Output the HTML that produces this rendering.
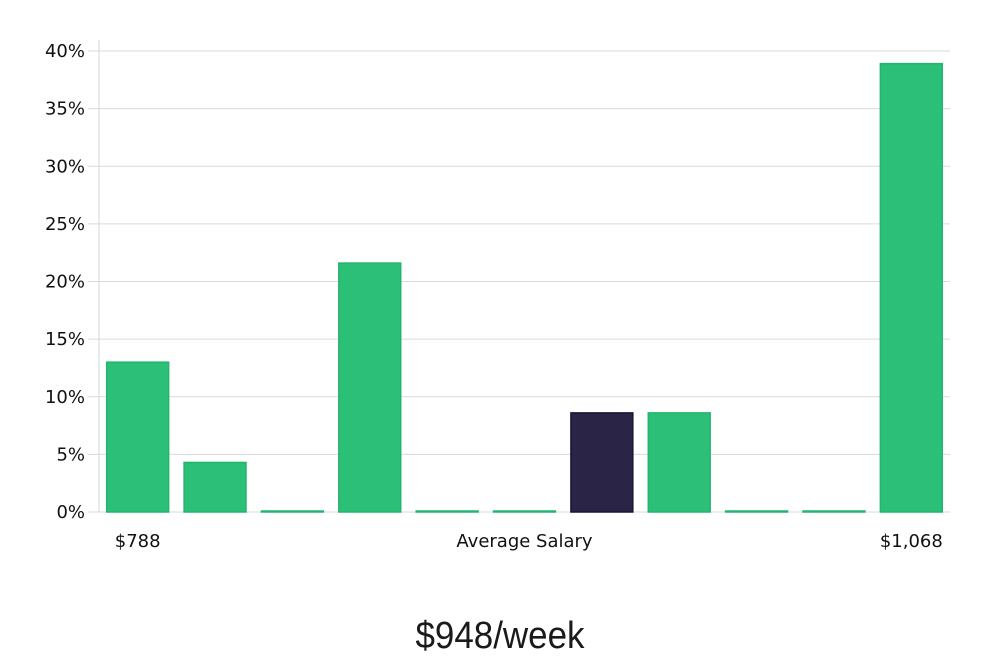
<!DOCTYPE html>
<html><head><meta charset="utf-8"><style>
body{margin:0;background:#fff;width:1000px;height:660px;overflow:hidden}
svg text{font-family:"DejaVu Sans","Liberation Sans",sans-serif;fill:#111}
</style></head><body>
<svg id="chart" width="1000" height="660" xmlns="http://www.w3.org/2000/svg">
<g id="grid"></g><g id="bars"></g><g id="labels"></g>
<text x="500" y="648" text-anchor="middle" style="font-family:'Liberation Sans',sans-serif;font-size:38px;fill:#1a1a1a" transform="translate(500,0) scale(0.92,1) translate(-500,0)">$948/week</text>
</svg>
<script>
const categories=["b1","b2","b3","b4","b5","b6","b7","b8","b9","b10","b11"];
const values=[13,4.3,0,21.6,0,0,8.6,8.6,0,0,38.9];
const highlight=[false,false,false,false,false,false,true,false,false,false,false];
const yTicks=[0,5,10,15,20,25,30,35,40];
const xLabels=[{i:0,t:"$788"},{i:5,t:"Average Salary"},{i:10,t:"$1,068"}];
const NS="http://www.w3.org/2000/svg";
const x0=99,x1=950,y0=512,yTop=51,yMax=40;
const y=v=>y0-(v/yMax)*(y0-yTop);
const slot=(x1-x0)/categories.length;
const xc=i=>x0+slot*(i+0.5);
function mk(t,a,p){const e=document.createElementNS(NS,t);for(const k in a)e.setAttribute(k,a[k]);p.appendChild(e);return e;}
const grid=document.getElementById('grid'),bars=document.getElementById('bars'),labels=document.getElementById('labels');
const ax=mk('line',{x1:x0,x2:x0,y1:40,y2:y0,stroke:'#d6d6d6'},grid);


yTicks.forEach(v=>{
 const l=mk('line',{x1:88,x2:x1,y1:y(v),y2:y(v),stroke:'#dadada'},grid);
 
 
 const t=mk('text',{x:85,y:y(v)+6,'text-anchor':'end','font-size':'18'},labels);
 t.textContent=v+'%';
 
 
});
const bw=slot*0.8;
values.forEach((v,i)=>{
 const h=Math.max(y0-y(v),1);
 const r=mk('rect',{x:xc(i)-bw/2,y:y0-h,width:bw,height:h,fill:highlight[i]?'#2a2547':'#2bbf78',stroke:highlight[i]?'#1a1535':'#22b56e','stroke-width':1.5},bars);
 
 
});
xLabels.forEach(o=>{
 const t=mk('text',{x:xc(o.i)+(o.i===10?0:0),y:547,'text-anchor':'middle','font-size':'18'},labels);
 t.textContent=o.t;
 
 
});
</script>
</body></html>
